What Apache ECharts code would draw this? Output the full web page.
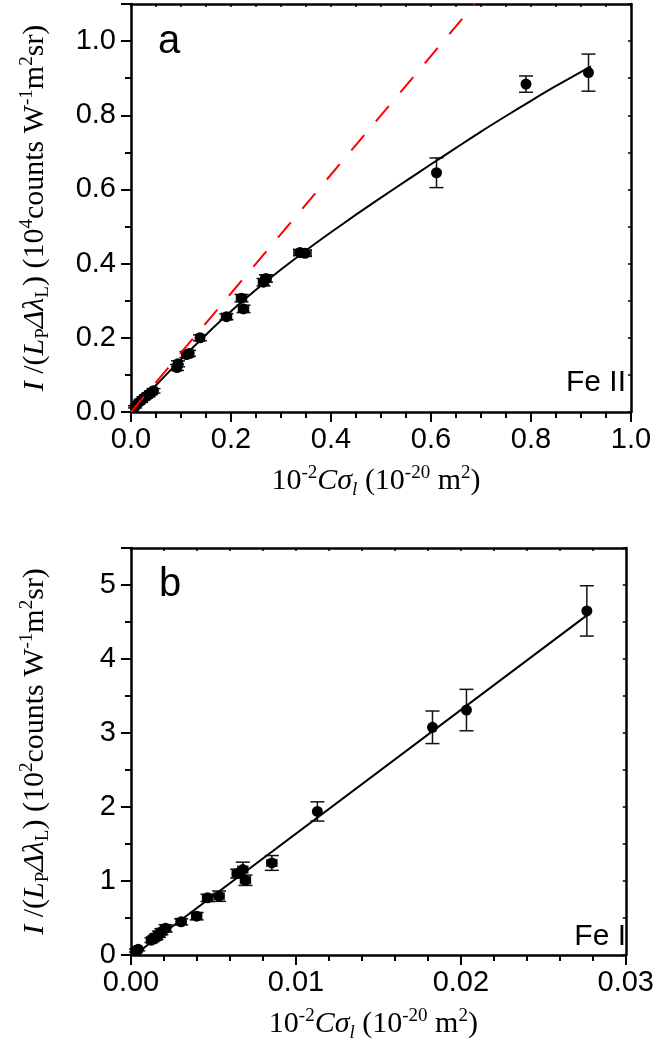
<!DOCTYPE html>
<html>
<head>
<meta charset="utf-8">
<script src="https://cdn.jsdelivr.net/npm/echarts@6/dist/echarts.min.js"></script>
<style>
html,body{margin:0;padding:0;background:#fff;}
#chart{width:657px;height:1059px;}
</style>
</head>
<body>
<div id="chart"></div>
<script>
// ---------- Panel a (Fe II) ----------
const aX    = [0.008,0.014,0.020,0.025,0.030,0.035,0.040,0.045,0.092,0.094,0.111,0.116,0.138,0.191,0.221,0.225,0.265,0.270,0.338,0.348,0.611,0.790,0.915];
const aY    = [0.014,0.024,0.030,0.037,0.042,0.046,0.052,0.057,0.120,0.130,0.155,0.158,0.200,0.257,0.307,0.278,0.350,0.360,0.430,0.428,0.645,0.884,0.915];
const aYErr = [0.003,0.003,0.004,0.004,0.004,0.005,0.005,0.006,0.008,0.008,0.008,0.008,0.008,0.008,0.010,0.010,0.010,0.010,0.008,0.008,0.040,0.022,0.050];
const aXErr = [0.003,0.004,0.004,0.005,0.005,0.006,0.006,0.007,0.008,0.008,0.009,0.009,0.008,0.010,0.010,0.010,0.010,0.010,0.012,0.012,0.000,0.000,0.000];
const aFitX = [0,0.05,0.10,0.15,0.20,0.25,0.30,0.35,0.40,0.45,0.50,0.55,0.60,0.65,0.70,0.75,0.80,0.85,0.92];
const aFitY = [0,0.072,0.142,0.2085,0.2715,0.3295,0.384,0.4355,0.4845,0.532,0.578,0.623,0.668,0.712,0.756,0.798,0.839,0.879,0.932];
const aLinX = [0,0.6875];
const aLinY = [0,1.1];

// ---------- Panel b (Fe I) ----------
const bX    = [0.00030,0.00044,0.00124,0.00140,0.00154,0.00170,0.00184,0.00210,0.00304,0.00398,0.00464,0.00534,0.00644,0.00678,0.00694,0.00854,0.01130,0.01828,0.02034,0.02764];
const bY    = [0.060,0.077,0.200,0.225,0.247,0.280,0.314,0.360,0.449,0.525,0.772,0.795,1.100,1.155,1.010,1.244,1.940,3.077,3.310,4.650];
const bYErr = [0.02,0.02,0.03,0.03,0.04,0.04,0.04,0.05,0.04,0.05,0.05,0.07,0.06,0.10,0.07,0.10,0.13,0.22,0.28,0.34];
const bXErr = [0.0002,0.0002,0.0003,0.0003,0.0003,0.0003,0.0003,0.0003,0.0003,0.0003,0.0003,0.0003,0.0003,0.0003,0.0003,0.0003,0,0,0,0];
const bFitX = [0.0002,0.0277];
const bFitY = [0,4.6];

const aTicksX = [0,0.2,0.4,0.6,0.8,1.0];
const aTicksY = [0,0.2,0.4,0.6,0.8,1.0];
const bTicksX = [0,0.01,0.02,0.03];
const bTicksY = [0,1,2,3,4,5];

const SANS = 'Liberation Sans, Arial, sans-serif';
const SERIF = 'Liberation Serif, Times New Roman, serif';

function zip(xs, ys) { return xs.map((x,i)=>[x, ys[i]]); }
function zip4(xs, ys, ye, xe) { return xs.map((x,i)=>[x, ys[i], ye[i], xe[i]]); }

const nameRich = {
  n:   {fontFamily: SERIF, fontSize: 30, color:'#000', lineHeight: 35},
  i:   {fontFamily: SERIF, fontSize: 30, fontStyle:'italic', color:'#000', lineHeight: 35},
  sup: {fontFamily: SERIF, fontSize: 19, color:'#000', verticalAlign:'top', lineHeight: 19},
  sub: {fontFamily: SERIF, fontSize: 19, color:'#000', verticalAlign:'bottom', lineHeight: 19},
  subi:{fontFamily: SERIF, fontSize: 19, fontStyle:'italic', color:'#000', verticalAlign:'bottom', lineHeight: 14}
};
const yNameA = '{i|I}{n| /(}{i|L}{sub|P}{i|Δλ}{sub|L}{n|) (10}{sup|4}{n|counts W}{sup|-1}{n|m}{sup|2}{n|sr)}';
const yNameB = '{i|I}{n| /(}{i|L}{sub|P}{i|Δλ}{sub|L}{n|) (10}{sup|2}{n|counts W}{sup|-1}{n|m}{sup|2}{n|sr)}';
const xName  = '{n|10}{sup|-2}{i|Cσ}{subi|l}{n| (10}{sup|-20}{n| m}{sup|2}{n|)}';

function labelFmt(ticks, dec) {
  return v => { const r = Math.round(v*1e6)/1e6; return ticks.some(t=>Math.abs(t-r)<1e-9) ? r.toFixed(dec) : ''; };
}

function mainX(grid, min, max, interval, split, dec, ticks) {
  return {
    gridIndex: grid, type:'value', position:'bottom', min, max, interval,
    axisLine:{show:true, onZero:false, lineStyle:{color:'#000', width:2.5}},
    axisTick:{show:true, inside:false, length:10, lineStyle:{color:'#000', width:2}},
    minorTick:{show:true, splitNumber:split, length:6, lineStyle:{color:'#000', width:2}},
    splitLine:{show:false}, minorSplitLine:{show:false},
    axisLabel:{show:true, fontFamily:SANS, fontSize:29, color:'#000', margin:13, formatter: labelFmt(ticks, dec)},
    name: xName, nameLocation:'middle', nameGap:52,
    nameTextStyle:{rich:nameRich, padding:[0,10,0,0]}
  };
}
function mainY(grid, min, max, interval, split, dec, ticks, nm) {
  return {
    gridIndex: grid, type:'value', position:'left', min, max, interval,
    axisLine:{show:true, onZero:false, lineStyle:{color:'#000', width:2.5}},
    axisTick:{show:true, inside:false, length:10, lineStyle:{color:'#000', width:2}},
    minorTick:{show:true, splitNumber:split, length:6, lineStyle:{color:'#000', width:2}},
    splitLine:{show:false}, minorSplitLine:{show:false},
    axisLabel:{show:true, fontFamily:SANS, fontSize:29, color:'#000', margin:15, showMaxLabel:false, formatter: labelFmt(ticks, dec)},
    name: nm, nameLocation:'middle', nameGap:78, nameRotate:90,
    nameTextStyle:{rich:nameRich}
  };
}
function sideAxis(grid, pos, min, max, interval, split) {
  return {
    gridIndex: grid, type:'value', position:pos, min, max, interval,
    axisLine:{show:true, onZero:false, lineStyle:{color:'#000', width:2.5}},
    axisTick:{show:true, inside:true, length:3, lineStyle:{color:'#000', width:1.5}},
    minorTick:{show:true, splitNumber:split, length:3, lineStyle:{color:'#000', width:1.5}},
    splitLine:{show:false}, minorSplitLine:{show:false},
    axisLabel:{show:false}
  };
}

function errItem() {
  return function (params, api) {
    const x = api.value(0), y = api.value(1), ye = api.value(2), xe = api.value(3);
    const top = api.coord([x, y + ye]);
    const bot = api.coord([x, y - ye]);
    const children = [];
    const ls = {stroke:'#111', lineWidth:1.5};
    children.push({type:'line', shape:{x1:top[0], y1:top[1], x2:bot[0], y2:bot[1]}, style:ls});
    children.push({type:'line', shape:{x1:top[0]-7, y1:top[1], x2:top[0]+7, y2:top[1]}, style:ls});
    children.push({type:'line', shape:{x1:bot[0]-7, y1:bot[1], x2:bot[0]+7, y2:bot[1]}, style:ls});
    if (xe > 0) {
      const l = api.coord([x - xe, y]);
      const r = api.coord([x + xe, y]);
      children.push({type:'line', shape:{x1:l[0], y1:l[1], x2:r[0], y2:r[1]}, style:ls});
      children.push({type:'line', shape:{x1:l[0], y1:l[1]-4, x2:l[0], y2:l[1]+4}, style:ls});
      children.push({type:'line', shape:{x1:r[0], y1:r[1]-4, x2:r[0], y2:r[1]+4}, style:ls});
    }
    return {type:'group', children};
  };
}

const chart = echarts.init(document.getElementById('chart'), null, {renderer:'canvas'});
const option = {
  backgroundColor:'#fff',
  animation:false,
  grid:[
    {left:131, top:4, width:500, height:408, show:false},
    {left:131, top:548, width:500, height:407, show:false}
  ],
  xAxis:[
    mainX(0, 0, 1.0, 0.2, 4, 1, aTicksX),
    sideAxis(0, 'top', 0, 1.0, 0.2, 4),
    mainX(1, 0, 0.03, 0.01, 5, 2, bTicksX),
    sideAxis(1, 'top', 0, 0.03, 0.01, 5)
  ],
  yAxis:[
    mainY(0, 0, 1.1, 0.2, 2, 1, aTicksY, yNameA),
    sideAxis(0, 'right', 0, 1.1, 0.2, 2),
    mainY(1, 0, 5.5, 1, 2, 0, bTicksY, yNameB),
    sideAxis(1, 'right', 0, 5.5, 1, 2)
  ],
  graphic:[
    {type:'text', left:158, top:22, style:{text:'a', font:'40px Liberation Sans', fill:'#000'}},
    {type:'text', left:159, top:565, style:{text:'b', font:'40px Liberation Sans', fill:'#000'}},
    {type:'text', right:31, top:368, style:{text:'Fe II', font:'30px Liberation Sans', fill:'#000'}},
    {type:'text', right:31, top:922, style:{text:'Fe I', font:'30px Liberation Sans', fill:'#000'}}
  ],
  series:[
    {type:'custom', xAxisIndex:0, yAxisIndex:0, renderItem:errItem(), data:zip4(aX,aY,aYErr,aXErr), z:3, silent:true},
    {type:'scatter', xAxisIndex:0, yAxisIndex:0, data:zip(aX,aY), symbol:'circle', symbolSize:11, itemStyle:{color:'#000', opacity:1}, z:4},
    {type:'line', xAxisIndex:0, yAxisIndex:0, data:zip(aFitX,aFitY), smooth:0.3, showSymbol:false, symbol:'none', lineStyle:{color:'#000', width:2}, z:5},
    {type:'line', xAxisIndex:0, yAxisIndex:0, data:zip(aLinX,aLinY), showSymbol:false, symbol:'none', lineStyle:{color:'#ff0000', width:2, type:[20,18]}, z:6},
    {type:'custom', xAxisIndex:2, yAxisIndex:2, renderItem:errItem(), data:zip4(bX,bY,bYErr,bXErr), z:3, silent:true},
    {type:'scatter', xAxisIndex:2, yAxisIndex:2, data:zip(bX,bY), symbol:'circle', symbolSize:11, itemStyle:{color:'#000', opacity:1}, z:4},
    {type:'line', xAxisIndex:2, yAxisIndex:2, data:zip(bFitX,bFitY), showSymbol:false, symbol:'none', lineStyle:{color:'#000', width:2}, z:5}
  ]
};
chart.setOption(option);
</script>
</body>
</html>
